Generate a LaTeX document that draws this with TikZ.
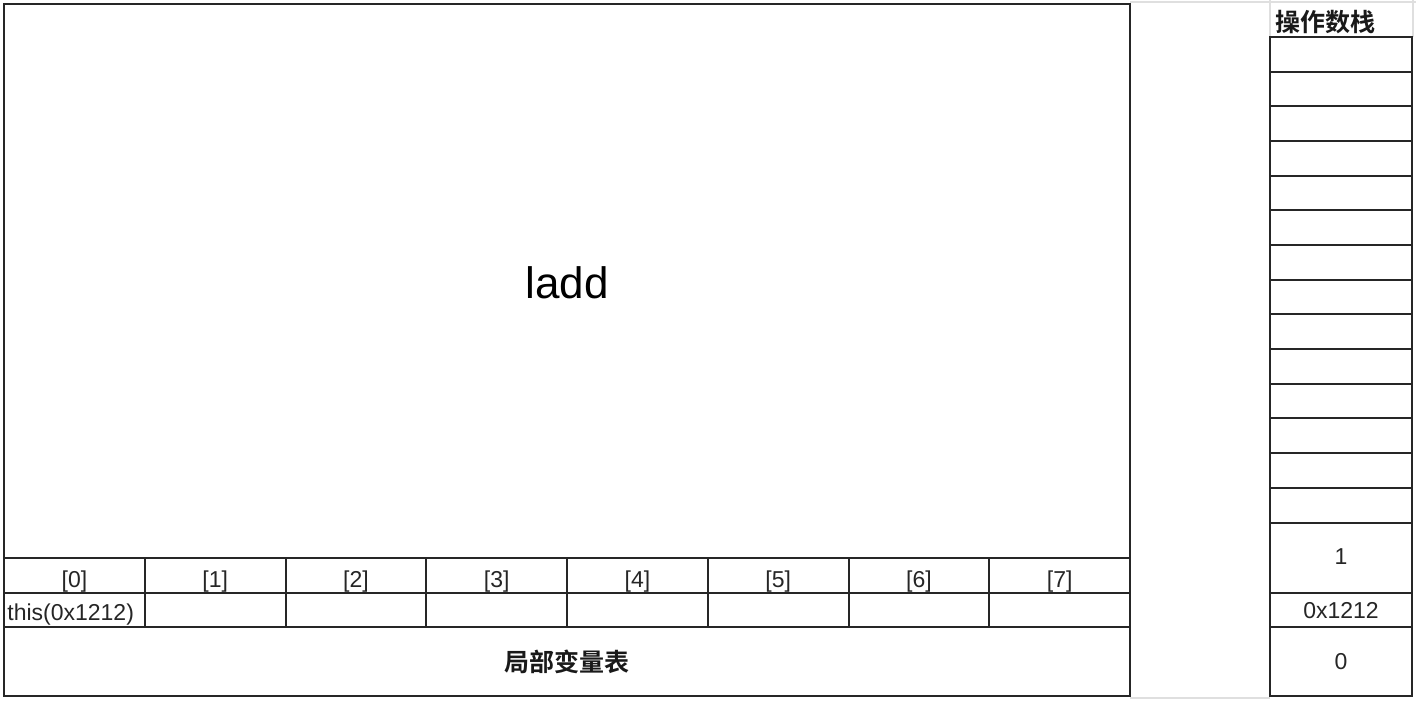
\documentclass[tikz,border=0pt]{standalone}
\usepackage{fontspec}
\setmainfont{Liberation Sans}
\newfontfamily\cjk{Noto Sans CJK SC}[BoldFont={Noto Sans CJK SC Bold}]
\usepackage{tikz}
\usetikzlibrary{positioning,calc}
\usepackage{xcolor}

\tikzset{
  cellline/.style={line width=1pt, black!85},
  gridline/.style={line width=0.8pt, gray!25},
  celltext/.style={inner sep=0pt, font=\fontsize{11.5}{13}\selectfont, text=black!85},
  headtext/.style={inner sep=0pt, font=\cjk\bfseries\fontsize{12.5}{14}\selectfont, text=black!90}
}

\begin{document}
\begin{tikzpicture}[x=0.5pt, y=-0.5pt]
    \useasboundingbox (0,0) rectangle (1416,700);
    \fill[white] (0,0) rectangle (1416,700);

    % faint sheet grid
    \draw[gridline] (1130,2) -- (1416,2);
    \draw[gridline] (1130,698) -- (1270,698);
    \draw[gridline] (1270,0) -- (1270,37);
    \draw[gridline] (1413,0) -- (1413,37);

    % Frame: big box with the local variable table at its foot
    \draw[cellline] (4,4) rectangle (1130,696);
    \draw[cellline] (4,557.5) -- (1130,557.5);
    \draw[cellline] (4,592.5) -- (1130,592.5);
    \draw[cellline] (4,627) -- (1130,627);
    \foreach \i in {1,...,7}
        \draw[cellline] ({4+140.75*\i},557.5) -- ({4+140.75*\i},627);

    \node[inner sep=0pt, font=\fontsize{22}{26}\selectfont] (ladd) at (567,283) {ladd};

    % Slot indices
    \foreach \i in {0,...,7}
        \node[celltext, anchor=base] (idx\i) at ({4+140.75*\i+70.4},587) {[\i]};
    \node[celltext, anchor=base west] (this) at (7,620) {this(0x1212)};
    \node[headtext] (lvt) at (567,662) {局部变量表};

    % Operand stack
    \node[headtext, anchor=west] (opstack) at (1275,22) {操作数栈};
    \draw[cellline] (1270,37) rectangle (1411.5,696);
    \foreach \j in {1,...,14}
        \draw[cellline] (1270,{37+34.68*\j}) -- (1411.5,{37+34.68*\j});
    \draw[cellline] (1270,592.5) -- (1411.5,592.5);
    \draw[cellline] (1270,627) -- (1411.5,627);

    \node[celltext] (val1) at (1341,557) {1};
    \node[celltext] (valref) at (1341,611) {0x1212};
    \node[celltext] (val0) at (1341,662) {0};
\end{tikzpicture}
\end{document}
